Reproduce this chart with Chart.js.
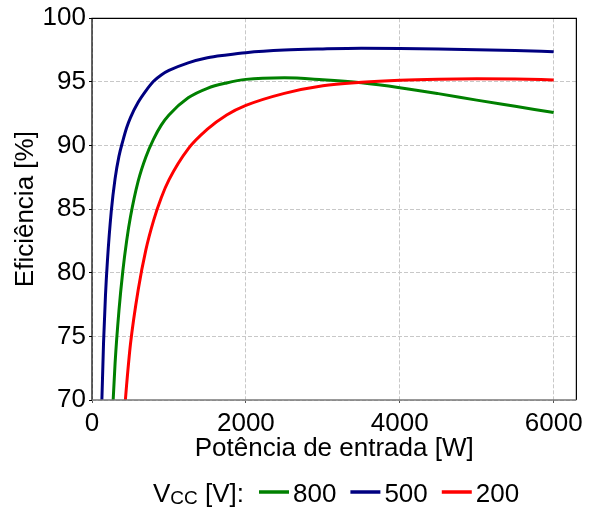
<!DOCTYPE html>
<html>
<head>
<meta charset="utf-8">
<script src="https://cdn.jsdelivr.net/npm/chart.js@4.4.1/dist/chart.umd.min.js"></script>
<style>
  html, body { margin: 0; padding: 0; background: #fff; }
  #wrap { width: 591px; height: 508px; }
</style>
</head>
<body>
<div id="wrap"><canvas id="effChart" width="591" height="508"></canvas></div>
<script>
// Input power [W] and efficiency [%]
const power = [100, 125, 150, 175, 200, 250, 300, 350, 400, 450, 500, 600, 700, 800, 900,
               1000, 1250, 1500, 1750, 2000, 2500, 3000, 3500, 4000, 4500, 5000, 5500, 6000];

const eff800 = [null, null, null, null, null, 67.0, 72.9, 77.0, 80.1, 82.5, 84.4, 87.2, 89.1, 90.5, 91.6,
                92.4, 93.75, 94.5, 94.92, 95.2, 95.33, 95.17, 94.93, 94.55, 94.08, 93.57, 93.08, 92.59];

const eff500 = [61.5, 69.3, 74.5, 78.2, 80.9, 84.8, 87.4, 89.15, 90.35, 91.4, 92.2, 93.4, 94.3, 95.05, 95.55,
                95.9, 96.5, 96.9, 97.12, 97.3, 97.5, 97.59, 97.64, 97.63, 97.59, 97.53, 97.46, 97.38];

const eff200 = [null, null, null, null, null, null, null, null, 67.5, 71.2, 74.4, 78.65, 81.8, 84.1, 85.9,
                87.3, 89.74, 91.28, 92.4, 93.15, 94.1, 94.7, 94.97, 95.13, 95.21, 95.24, 95.22, 95.16];

const vccLabels = ['800', '500', '200'];
const xTicks = [0, 2000, 4000, 6000];
const yTicks = [70, 75, 80, 85, 90, 95, 100];

const FONT = '"Liberation Sans", Arial, sans-serif';

function toPoints(values) {
    return power.map((p, i) => ({ x: p, y: values[i] })).filter(d => d.y !== null);
}

// draws the box around the plot area like matplotlib spines
const framePlugin = {
    id: 'frame',
    afterDatasetsDraw(chart) {
        const { ctx, chartArea: a } = chart;
        ctx.save();
        ctx.lineWidth = 1.2;
        ctx.strokeStyle = '#000';
        ctx.beginPath();
        ctx.moveTo(a.left, a.bottom);
        ctx.lineTo(a.left, a.top);
        ctx.lineTo(a.right, a.top);
        ctx.lineTo(a.right, a.bottom);
        ctx.stroke();
        ctx.strokeStyle = '#777';
        ctx.lineWidth = 1.6;
        ctx.beginPath();
        ctx.moveTo(a.left, a.bottom);
        ctx.lineTo(a.right, a.bottom);
        ctx.stroke();
        ctx.restore();
    }
};

// legend at the bottom: "VCC [V]:" then one line per dataset
const legendPlugin = {
    id: 'vccLegend',
    afterDraw(chart) {
        const ctx = chart.ctx;
        ctx.save();
        const lineY = 492;
        const base = 501.5;
        let x = 153;
        ctx.fillStyle = '#000';
        ctx.textBaseline = 'alphabetic';
        ctx.textAlign = 'left';
        ctx.font = '26px ' + FONT;
        ctx.fillText('V', x, base);
        x += ctx.measureText('V').width;
        ctx.font = '19px ' + FONT;
        ctx.fillText('CC', x, base + 2.5);
        x += ctx.measureText('CC').width;
        ctx.font = '26px ' + FONT;
        ctx.fillText(' [V]:', x, base);
        x += ctx.measureText(' [V]:').width + 15;

        chart.data.datasets.forEach(ds => {
            ctx.strokeStyle = ds.borderColor;
            ctx.lineWidth = 3.5;
            ctx.beginPath();
            ctx.moveTo(x, lineY);
            ctx.lineTo(x + 30, lineY);
            ctx.stroke();
            x += 34;
            ctx.fillStyle = '#000';
            ctx.fillText(ds.label, x, base);
            x += ctx.measureText(ds.label).width + 14;
        });
        ctx.restore();
    }
};

const ctx = document.getElementById('effChart').getContext('2d');

const chart = new Chart(ctx, {
    type: 'line',
    data: {
        datasets: [
            { label: vccLabels[0], data: toPoints(eff800), borderColor: '#008000', order: 2 },
            { label: vccLabels[1], data: toPoints(eff500), borderColor: '#000080', order: 1 },
            { label: vccLabels[2], data: toPoints(eff200), borderColor: '#ff0000', order: 0 },
        ],
    },
    options: {
        responsive: false,
        animation: false,
        devicePixelRatio: 1,
        layout: { padding: { left: 0, right: 8.5, top: 18.3, bottom: 0 } },
        elements: {
            line: { borderWidth: 3, cubicInterpolationMode: 'monotone', fill: false },
            point: { radius: 0 },
        },
        datasets: { line: { clip: 0 } },
        plugins: {
            legend: { display: false },
            tooltip: { enabled: false },
        },
        scales: {
            x: {
                type: 'linear',
                min: 0,
                max: 6295,
                afterBuildTicks: scale => { scale.ticks = xTicks.map(v => ({ value: v })); },
                afterFit: scale => { scale.height = 108; },
                grid: {
                    color: '#c8c8c8', lineWidth: 1,
                    drawTicks: true, tickLength: 3, tickColor: '#555', tickWidth: 1, tickBorderDash: [],
                },
                border: { display: false, dash: [4, 2] },
                ticks: {
                    color: '#000', padding: 8, maxRotation: 0,
                    font: { family: FONT, size: 26, lineHeight: 1 },
                    callback: v => String(v),
                },
                title: {
                    display: true, text: 'Potência de entrada [W]', color: '#000',
                    font: { family: FONT, size: 26, lineHeight: 1 },
                    padding: { top: 0, bottom: 46 },
                },
            },
            y: {
                min: 70,
                max: 100,
                afterBuildTicks: scale => { scale.ticks = yTicks.map(v => ({ value: v })); },
                afterFit: scale => { scale.width = 92; },
                grid: {
                    color: '#c8c8c8', lineWidth: 1,
                    drawTicks: true, tickLength: 3, tickColor: '#000', tickWidth: 1, tickBorderDash: [],
                },
                border: { display: false, dash: [4, 2] },
                ticks: {
                    color: '#000', padding: 3,
                    font: { family: FONT, size: 26, lineHeight: 1 },
                    callback: v => String(v),
                },
                title: {
                    display: true, text: 'Eficiência [%]', color: '#000',
                    font: { family: FONT, size: 26, lineHeight: 1 },
                    padding: { top: 13, bottom: 0 },
                },
            },
        },
    },
    plugins: [framePlugin, legendPlugin],
});
</script>
</body>
</html>
